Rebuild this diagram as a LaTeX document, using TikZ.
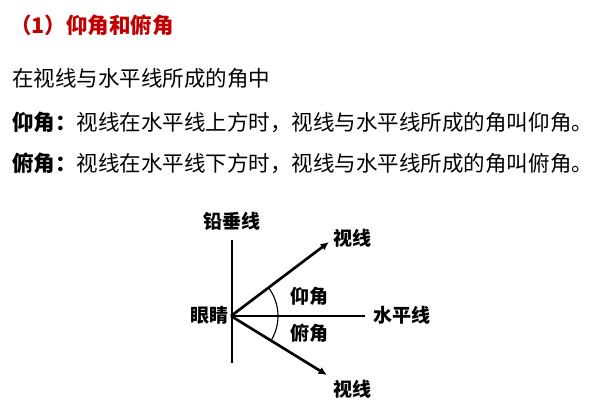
\documentclass[tikz,border=0pt]{standalone}
\usepackage{fontspec}
\usepackage{xcolor}
\usetikzlibrary{arrows.meta}
\newfontfamily\cjk{Noto Sans CJK SC}
\definecolor{titlered}{HTML}{C00000}

\begin{document}
\begin{tikzpicture}[
    txt/.style={anchor=west, inner sep=0pt, font=\cjk\fontsize{15.3pt}{18pt}\selectfont},
    lbl/.style={inner sep=0pt, font=\cjk\fontsize{13.5pt}{16pt}\selectfont\bfseries},
    sight/.style={line width=1.9pt, -{Latex[length=6pt,width=5.5pt]}}
  ]
        \useasboundingbox (0,0) rectangle (14.9,-10.475);
        % heading and text
        \node[txt, text=titlered] (title) at (0.25,-0.625) {\bfseries （1）仰角和俯角};
        \node[txt] (line1) at (0.3,-1.95) {在视线与水平线所成的角中};
        \node[txt] (line2) at (0.3,-3.05) {{\bfseries 仰角：}视线在水平线上方时，视线与水平线所成的角叫仰角。};
        \node[txt] (line3) at (0.3,-4.075) {{\bfseries 俯角：}视线在水平线下方时，视线与水平线所成的角叫俯角。};
        % the figure
        \coordinate (eye) at (5.775,-7.9);
        \coordinate (vtop) at (5.8,-6.0);
        \coordinate (vbot) at (5.8,-9.075);
        \coordinate (hend) at (9.125,-7.9);
        \coordinate (up) at (8.225,-6.05);
        \coordinate (down) at (8.175,-9.375);
        \draw[line width=1.4pt] (vtop) -- (vbot);
        \draw[line width=2.1pt] (eye) -- (hend);
        \draw[sight] (eye) -- (up);
        \draw[sight] (eye) -- (down);
        \draw[line width=0.8pt] (eye) ++(-31.6:1.175) arc[start angle=-31.6, end angle=37, radius=1.175];
        \node[lbl] (plumb) at (5.8,-5.525) {铅垂线};
        \node[lbl] (upsight) at (8.8,-5.95) {视线};
        \node[lbl] (eyes) at (5.225,-7.875) {眼睛};
        \node[lbl] (elev) at (7.733,-7.417) {仰角};
        \node[lbl] (horiz) at (10.05,-7.875) {水平线};
        \node[lbl] (depr) at (7.725,-8.333) {俯角};
        \node[lbl] (downsight) at (8.8,-9.725) {视线};
    \end{tikzpicture}
\end{document}
